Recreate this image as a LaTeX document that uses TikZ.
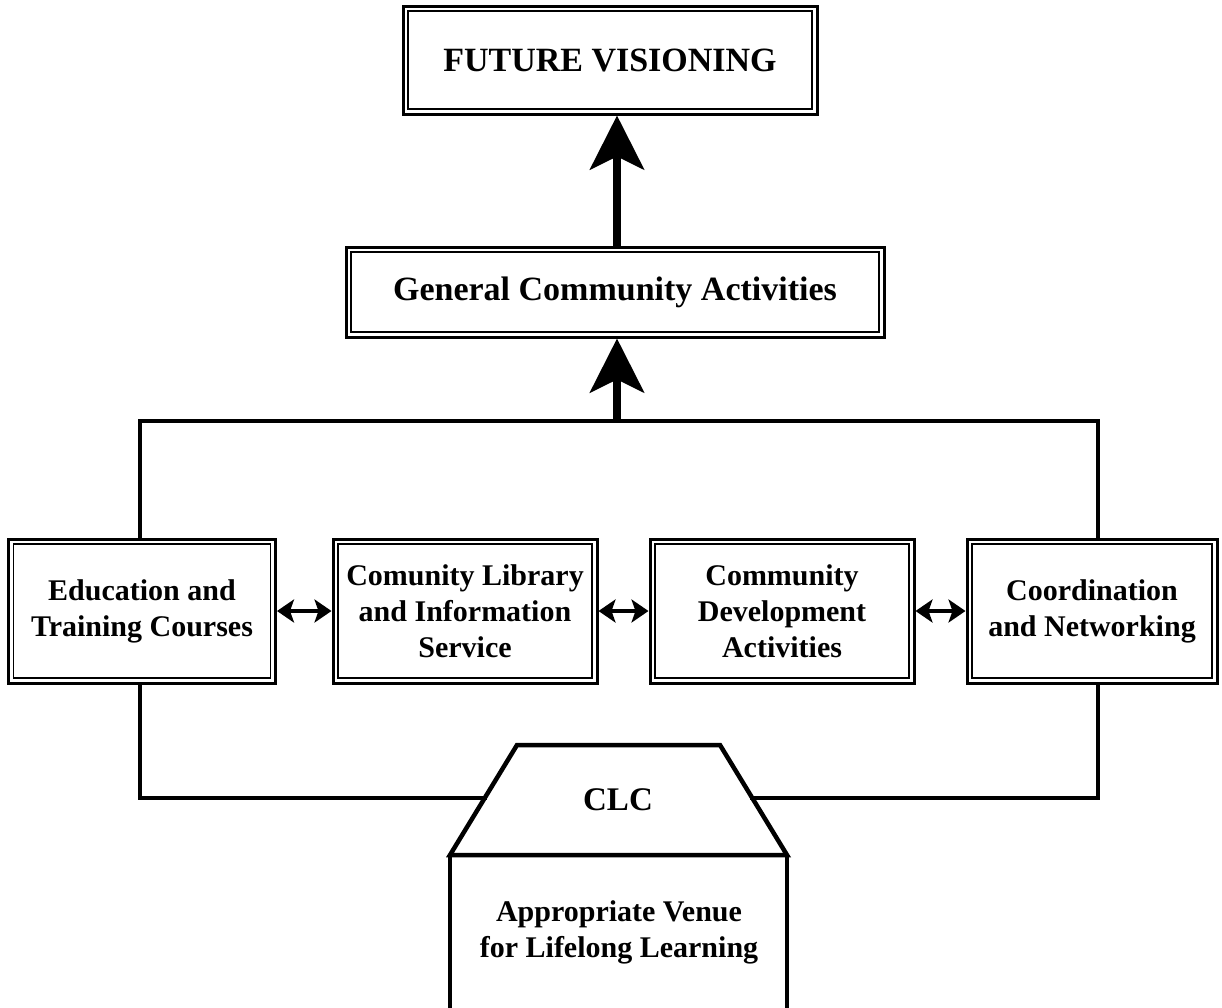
\documentclass[tikz,border=0pt]{standalone}
\usepackage{fontspec}
\setmainfont{Liberation Serif}
\usetikzlibrary{positioning,calc,arrows.meta}
\tikzset{
  dbox/.style={draw=black,fill=white,line width=3pt,inner sep=0pt,align=center,
    font=\bfseries\fontsize{30}{36}\selectfont,
    path picture={\draw[line width=1.3pt]
      ([shift={(5pt,5pt)}]path picture bounding box.south west) rectangle
      ([shift={(-5pt,-5pt)}]path picture bounding box.north east);}},
  link/.style={draw=black,line width=4.5pt,line cap=rect},
  bigarrow/.style={draw=black,line width=8pt,-{Stealth[length=54pt,width=54pt,inset=13pt]}},
  twoway/.style={draw=black,line width=4pt,{Stealth[length=17pt,width=23pt,inset=4pt]}-{Stealth[length=17pt,width=23pt,inset=4pt]}},
  clcline/.style={draw=black,line width=4.5pt,line join=miter},
  plain/.style={font=\bfseries\fontsize{30}{36}\selectfont,align=center,inner sep=0pt},
}
\begin{document}
\begin{tikzpicture}[x=1pt,y=-1pt]
  \useasboundingbox (0,0) rectangle (1222,1007);
  % top of the chart
  \node[dbox,minimum width=414pt,minimum height=108pt,font=\bfseries\fontsize{34}{40}\selectfont]
    (fv) at (610,60) {FUTURE VISIONING};
  \node[dbox,minimum width=538pt,minimum height=90pt,font=\bfseries\fontsize{34}{40}\selectfont]
    (gca) at (615,292) {General Community Activities};
  % the four services
  \node[dbox,minimum width=267pt,minimum height=144pt] (edu) at (142,611)
    {Education and\\Training Courses};
  \node[dbox,minimum width=264pt,minimum height=144pt] (lib) at (465,611)
    {Comunity Library\\and Information\\Service};
  \node[dbox,minimum width=264pt,minimum height=144pt] (cda) at (782,611)
    {Community\\Development\\Activities};
  \node[dbox,minimum width=250pt,minimum height=144pt] (cnw) at (1092,611)
    {Coordination\\and Networking};
  \coordinate (tl) at (140,421);
  \coordinate (tr) at (1098,421);
  \draw[link] (edu.north -| tl) |- (tr) -- (cnw.north -| tr);
  \draw[bigarrow] (tl -| 617,0) -- (gca.south -| 617,0);
  \draw[bigarrow] (gca.north -| 617,0) -- (fv.south -| 617,0);
  \draw[twoway] (edu.east) -- (lib.west);
  \draw[twoway] (lib.east) -- (cda.west);
  \draw[twoway] (cda.east) -- (cnw.west);
  % CLC base
  \coordinate (ttl) at (517,745);
  \coordinate (ttr) at (720,745);
  \coordinate (tbl) at (450,855);
  \coordinate (tbr) at (787,855);
  \draw[clcline,fill=white] (tbl) -- (ttl) -- (ttr) -- (tbr) -- cycle;
  \draw[clcline] (tbl) -- (450,1010);
  \draw[clcline] (tbr) -- (787,1010);
  \node[plain,font=\bfseries\fontsize{33}{38}\selectfont] (clc) at (618,800) {CLC};
  \node[plain] (venue) at (619,932) {Appropriate Venue\\for Lifelong Learning};
  \coordinate (cl) at ($(tbl)!0.52!(ttl)$);
  \coordinate (cr) at ($(tbr)!0.52!(ttr)$);
  \draw[link] (edu.south -| tl) |- (cl);
  \draw[link] (cnw.south -| tr) |- (cr);
\end{tikzpicture}
\end{document}
